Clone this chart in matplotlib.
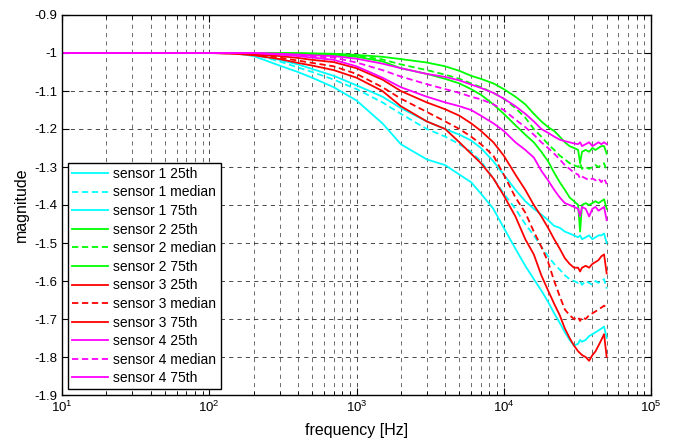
import numpy as np
import matplotlib
matplotlib.use('Agg')
import matplotlib.pyplot as plt

plt.rcParams['font.family'] = ['Liberation Sans', 'DejaVu Sans']
plt.rcParams['mathtext.fontset'] = 'custom'
plt.rcParams['mathtext.rm'] = 'Liberation Sans'
plt.rcParams['mathtext.it'] = 'Liberation Sans'

freq = [10, 50, 100, 150, 200, 300, 400, 500, 700, 1000, 1500, 2000, 3000, 4000,
        5000, 6000, 7000, 8500, 10000, 12000, 14000, 16000, 18000, 20000, 22000,
        24000, 26000, 28000, 30000, 32000, 33000, 34000, 36000, 38000, 40000,
        42000, 44000, 46000, 48000, 50000]

# sensor 1 (cyan)
s1_25 = [-1.0, -1.0, -1.0, -1.001, -1.008, -1.033, -1.05, -1.065, -1.09, -1.125,
         -1.185, -1.24, -1.28, -1.295, -1.32, -1.34, -1.37, -1.41, -1.46, -1.515,
         -1.56, -1.595, -1.625, -1.655, -1.685, -1.71, -1.735, -1.755, -1.77,
         -1.765, -1.755, -1.76, -1.755, -1.745, -1.74, -1.735, -1.73, -1.725,
         -1.72, -1.75]
s1_med = [-1.0, -1.0, -1.0, -1.0, -1.004, -1.022, -1.038, -1.05, -1.07, -1.095,
          -1.13, -1.16, -1.2, -1.22, -1.24, -1.26, -1.285, -1.33, -1.37, -1.41,
          -1.45, -1.48, -1.51, -1.535, -1.555, -1.57, -1.585, -1.595, -1.6,
          -1.605, -1.6, -1.61, -1.6, -1.605, -1.61, -1.6, -1.605, -1.6, -1.595,
          -1.62]
s1_75 = [-1.0, -1.0, -1.0, -1.0, -1.003, -1.018, -1.03, -1.042, -1.06, -1.085,
         -1.115, -1.145, -1.18, -1.2, -1.215, -1.23, -1.25, -1.285, -1.32, -1.36,
         -1.39, -1.41, -1.425, -1.44, -1.455, -1.46, -1.47, -1.475, -1.48,
         -1.485, -1.48, -1.49, -1.485, -1.48, -1.49, -1.485, -1.48, -1.48,
         -1.475, -1.5]

# sensor 2 (green)
s2_25 = [-1.0, -1.0, -1.0, -1.0, -1.0, -1.001, -1.002, -1.003, -1.005, -1.01,
         -1.022, -1.04, -1.055, -1.068, -1.08, -1.095, -1.11, -1.135, -1.16,
         -1.19, -1.215, -1.235, -1.26, -1.285, -1.315, -1.34, -1.36, -1.38,
         -1.39, -1.4, -1.47, -1.4, -1.395, -1.4, -1.395, -1.39, -1.395, -1.39,
         -1.385, -1.41]
s2_med = [-1.0, -1.0, -1.0, -1.0, -1.0, -1.0, -1.001, -1.002, -1.003, -1.007,
          -1.017, -1.03, -1.045, -1.057, -1.068, -1.08, -1.09, -1.105, -1.12,
          -1.145, -1.17, -1.2, -1.22, -1.24, -1.255, -1.27, -1.28, -1.29, -1.295,
          -1.3, -1.29, -1.305, -1.3, -1.305, -1.3, -1.295, -1.3, -1.295, -1.29,
          -1.31]
s2_75 = [-1.0, -1.0, -1.0, -1.0, -1.0, -1.0, -1.0, -1.001, -1.002, -1.005,
         -1.01, -1.016, -1.025, -1.035, -1.047, -1.06, -1.068, -1.08, -1.095,
         -1.115, -1.135, -1.16, -1.18, -1.195, -1.205, -1.22, -1.235, -1.245,
         -1.25, -1.255, -1.29, -1.26, -1.255, -1.26, -1.25, -1.255, -1.25, -1.245,
         -1.245, -1.265]

# sensor 3 (red)
s3_25 = [-1.0, -1.0, -1.0, -1.002, -1.006, -1.016, -1.026, -1.033, -1.045, -1.065,
         -1.1, -1.14, -1.18, -1.2, -1.235, -1.265, -1.29, -1.33, -1.375, -1.43,
         -1.49, -1.53, -1.585, -1.625, -1.66, -1.69, -1.725, -1.75, -1.77,
         -1.785, -1.79, -1.795, -1.8, -1.81, -1.795, -1.785, -1.77, -1.755,
         -1.74, -1.8]
s3_med = [-1.0, -1.0, -1.0, -1.001, -1.004, -1.012, -1.02, -1.026, -1.035, -1.055,
          -1.09, -1.12, -1.155, -1.18, -1.2, -1.22, -1.24, -1.27, -1.32, -1.38,
          -1.42, -1.47, -1.51, -1.55, -1.6, -1.64, -1.675, -1.69, -1.7, -1.695,
          -1.705, -1.695, -1.7, -1.69, -1.685, -1.68, -1.675, -1.67, -1.665,
          -1.67]
s3_75 = [-1.0, -1.0, -1.0, -1.001, -1.003, -1.008, -1.013, -1.018, -1.024, -1.04,
         -1.07, -1.1, -1.13, -1.148, -1.165, -1.185, -1.205, -1.235, -1.27,
         -1.32, -1.36, -1.4, -1.43, -1.46, -1.49, -1.515, -1.54, -1.555, -1.565,
         -1.565, -1.575, -1.565, -1.56, -1.565, -1.555, -1.55, -1.545, -1.535,
         -1.53, -1.58]

# sensor 4 (magenta)
s4_25 = [-1.0, -1.0, -1.0, -1.0, -1.0, -1.004, -1.008, -1.012, -1.018, -1.035,
         -1.065, -1.09, -1.115, -1.13, -1.14, -1.15, -1.165, -1.185, -1.205,
         -1.235, -1.255, -1.275, -1.31, -1.335, -1.36, -1.38, -1.395, -1.4,
         -1.405, -1.41, -1.43, -1.405, -1.41, -1.43, -1.41, -1.405, -1.415,
         -1.41, -1.405, -1.44]
s4_med = [-1.0, -1.0, -1.0, -1.0, -1.0, -1.003, -1.006, -1.009, -1.012, -1.025,
          -1.045, -1.062, -1.082, -1.095, -1.105, -1.115, -1.122, -1.135, -1.15,
          -1.175, -1.195, -1.215, -1.235, -1.25, -1.265, -1.28, -1.295, -1.305,
          -1.315, -1.32, -1.33, -1.325, -1.33, -1.335, -1.33, -1.335, -1.33,
          -1.34, -1.33, -1.345]
s4_75 = [-1.0, -1.0, -1.0, -1.0, -1.0, -1.002, -1.004, -1.006, -1.008, -1.015,
         -1.028, -1.04, -1.055, -1.063, -1.072, -1.083, -1.092, -1.105, -1.12,
         -1.14, -1.16, -1.18, -1.2, -1.21, -1.22, -1.228, -1.232, -1.235,
         -1.238, -1.24, -1.235, -1.245, -1.24, -1.235, -1.245, -1.24, -1.235,
         -1.24, -1.235, -1.24]

yticks = [-1.9, -1.8, -1.7, -1.6, -1.5, -1.4, -1.3, -1.2, -1.1, -1.0, -0.9]
ytick_labels = ['-1.9', '-1.8', '-1.7', '-1.6', '-1.5', '-1.4', '-1.3', '-1.2',
                '-1.1', '-1', '-0.9']

cyan, green, red, magenta = '#00ffff', '#00ff00', '#ff0000', '#ff00ff'

series = [
    (s1_25, cyan, '-', 'sensor 1 25th'),
    (s1_med, cyan, '--', 'sensor 1 median'),
    (s1_75, cyan, '-', 'sensor 1 75th'),
    (s2_25, green, '-', 'sensor 2 25th'),
    (s2_med, green, '--', 'sensor 2 median'),
    (s2_75, green, '-', 'sensor 2 75th'),
    (s3_25, red, '-', 'sensor 3 25th'),
    (s3_med, red, '--', 'sensor 3 median'),
    (s3_75, red, '-', 'sensor 3 75th'),
    (s4_25, magenta, '-', 'sensor 4 25th'),
    (s4_med, magenta, '--', 'sensor 4 median'),
    (s4_75, magenta, '-', 'sensor 4 75th'),
]

fig = plt.figure(figsize=(6.74, 4.4), dpi=100)
ax = fig.add_axes([62 / 674, 45 / 440, 589 / 674, 380 / 440])

for vals, col, ls, lab in series:
    if ls == '--':
        ax.plot(freq, vals, color=col, ls=(0, (3.5, 2)), lw=1.3, label=lab)
    else:
        ax.plot(freq, vals, color=col, ls='-', lw=1.3, label=lab)

ax.set_xscale('log')
ax.set_xlim(10, 1e5)
ax.set_ylim(-1.9, -0.9)
ax.set_yticks(yticks)
ax.set_yticklabels(ytick_labels)

ax.grid(True, which='major', color='k', ls=(0, (6, 6)), lw=0.5)
ax.grid(True, which='minor', axis='x', color='#333333', ls=(0, (6, 6)), lw=0.5)

ax.tick_params(which='both', direction='in', top=True, right=True, labelsize=9.5)
ax.tick_params(which='major', length=5)
ax.tick_params(which='minor', length=3)
for sp in ax.spines.values():
    sp.set_linewidth(1.0)

ax.set_xlabel('frequency [Hz]', fontsize=11.5, labelpad=6)
ax.set_ylabel('magnitude', fontsize=11.5, labelpad=4)

leg = ax.legend(loc='lower left', fontsize=10, handlelength=2.6, handletextpad=0.4,
                labelspacing=0.33, borderaxespad=0.4, borderpad=0.3, fancybox=False,
                framealpha=1, edgecolor='k')
leg.get_frame().set_linewidth(1.0)

fig.savefig('out.png', dpi=100)
